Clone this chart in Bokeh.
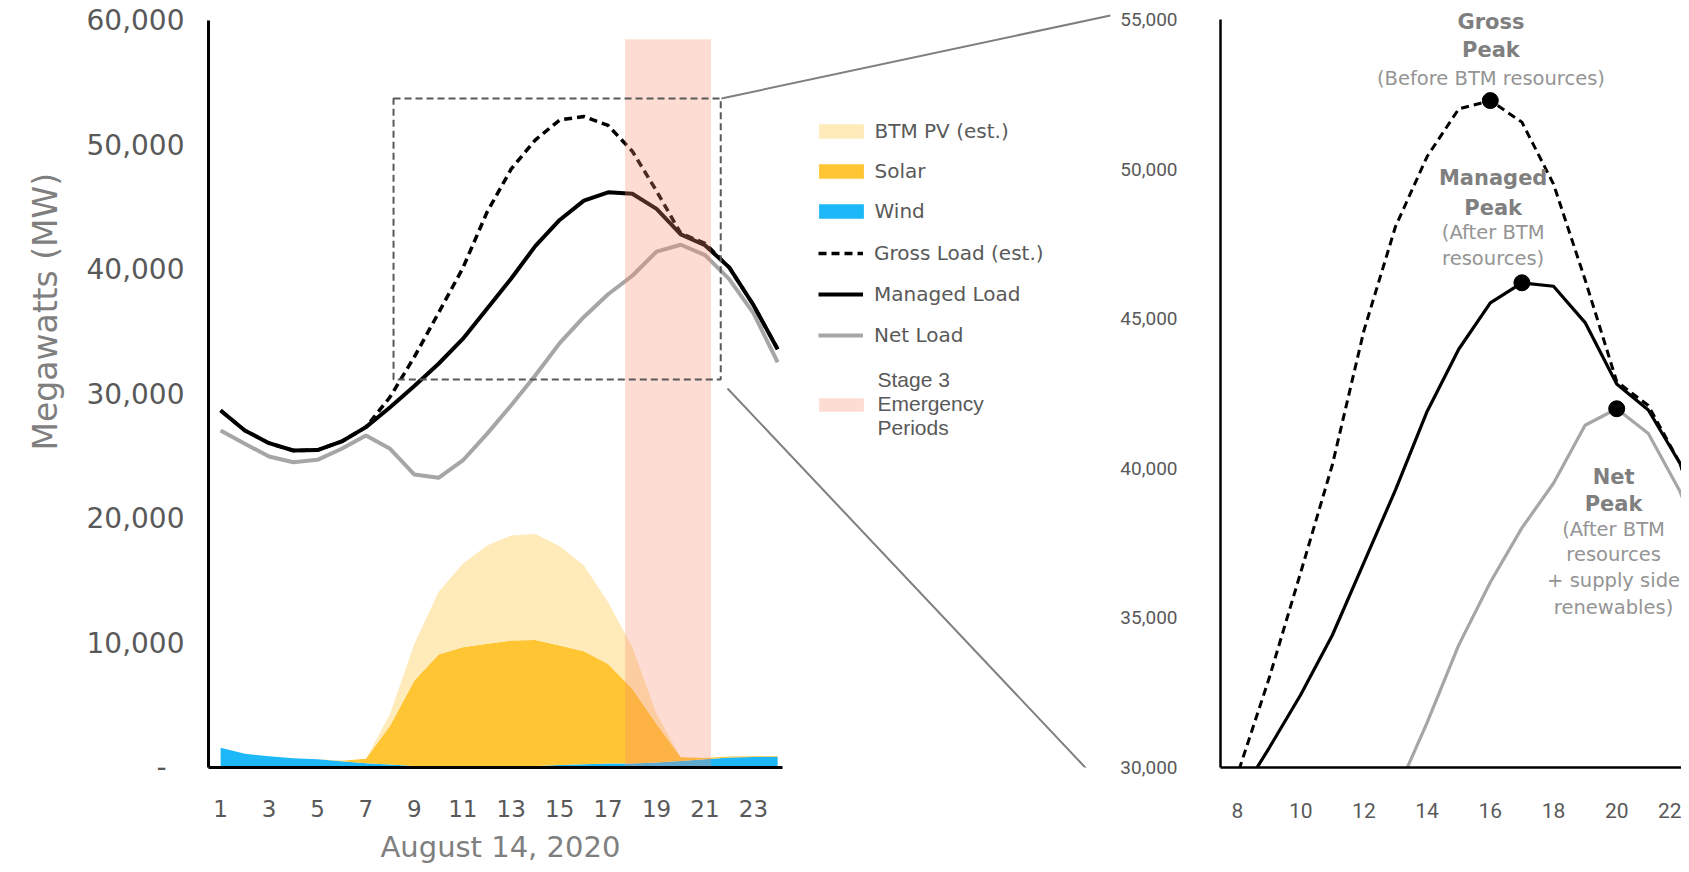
import math
from bokeh.plotting import figure
from bokeh.models import (ColumnDataSource, FixedTicker, Label, Legend, LegendItem,
                          Range1d, NumeralTickFormatter, Title)
from bokeh.layouts import row
from bokeh.embed import file_html
from bokeh.resources import INLINE

# ---------------- data ----------------
hours = list(range(1, 25))
wind = [1580, 1100, 910, 750, 670, 510, 350, 240, 130, 130, 120, 80,
        80, 130, 200, 270, 320, 330, 400, 530, 670, 800, 850, 870]
solar = [0, 0, 0, 0, 0, 30, 350, 3130, 6860, 8950, 9545, 9850,
         10120, 10120, 9600, 9070, 8000, 5990, 3100, 300, 100, 80, 60, 50]
btm_pv = [0, 0, 0, 0, 0, 0, 0, 940, 2945, 5007, 6694, 7898,
          8435, 8514, 7979, 6881, 4953, 3346, 803, 0, 0, 0, 0, 0]
gross_load = [28680, 27070, 26050, 25460, 25500, 26190, 27340, 29770, 32980, 36520, 40110, 44600,
              48080, 50420, 52010, 52290, 51570, 49500, 46300, 42900, 42100, 40170, 37150, 33600]
managed_load = [28680, 27070, 26050, 25460, 25500, 26190, 27340, 28940, 30650, 32430, 34420, 36850,
                39280, 41900, 43980, 45530, 46200, 46085, 44870, 42820, 41950, 40170, 37150, 33600]
net_load = [27070, 26000, 24980, 24520, 24710, 25600, 26670, 25600, 23530, 23270, 24660, 26800,
            29100, 31500, 34090, 36190, 38010, 39500, 41440, 41990, 41160, 39230, 36500, 32550]

emergency_start, emergency_end, emergency_top = 17.7, 21.25, 58500

left_x_ticks = [1, 3, 5, 7, 9, 11, 13, 15, 17, 19, 21, 23]
left_y_ticks = [0, 10000, 20000, 30000, 40000, 50000, 60000]
right_x_ticks = [8, 10, 12, 14, 16, 18, 20, 22]
right_y_ticks = [30000, 35000, 40000, 45000, 50000, 55000]

src = ColumnDataSource(dict(hour=hours, wind=wind, solar=solar, btm=btm_pv,
                            gross=gross_load, managed=managed_load, net=net_load))

TICK = "#595959"
TITLE = "#7f7f7f"
NET_C = "#A6A6A6"
PINK = "#FA8A6E"


def set_standoff(t, v):
    try:
        t.standoff = v
    except AttributeError:
        pass


# ---------------- left panel ----------------
left = figure(width=1115, height=872, title=None,
              x_range=Range1d(0.5, 37.95), y_range=Range1d(0, 60964),
              output_backend="svg", toolbar_location=None,
              min_border_left=208, min_border_right=0, min_border_top=8, min_border_bottom=105)
left.grid.visible = False
left.outline_line_color = None

areas = left.varea_stack(['wind', 'solar', 'btm'], x='hour', source=src,
                         color=["#1DB8F8", "#FFC533", "#FFEAB9"])
r_wind, r_solar, r_btm = areas
r_net = left.line('hour', 'net', source=src, line_color=NET_C, line_width=4)
r_man = left.line('hour', 'managed', source=src, line_color="black", line_width=4)
r_gross = left.line('hour', 'gross', source=src, line_color="black", line_width=3.5, line_dash="8 5")
r_band = left.quad(left=emergency_start, right=emergency_end, bottom=0, top=emergency_top,
                   fill_color=PINK, fill_alpha=0.3, line_color=None)

# zoom box and connectors
left.quad(left=8.14, right=21.65, bottom=31170, top=53730, fill_color=None,
          line_color="#595959", line_width=2, line_dash="7 4")
left.segment(x0=[21.68, 21.93], y0=[53735, 30442], x1=[37.74, 37.87], y1=[60402, -2410],
             line_color="#7f7f7f", line_width=2)

for ax in (left.xaxis[0], left.yaxis[0]):
    ax.axis_line_width = 3
    ax.axis_line_color = "black"
    ax.major_tick_line_color = None
    ax.minor_tick_line_color = None
    ax.major_label_text_color = TICK
    ax.major_label_text_font = "DejaVu Sans"

left.xaxis.ticker = FixedTicker(ticks=left_x_ticks)
left.xaxis.bounds = (0.5, 24.2)
left.xaxis.major_label_text_font_size = "23px"
left.xaxis.major_label_standoff = 26

left.yaxis.ticker = FixedTicker(ticks=left_y_ticks)
left.yaxis.bounds = (0, 60000)
left.yaxis.major_label_text_font_size = "28px"
left.yaxis.major_label_standoff = 18
left.yaxis.major_label_overrides = {t: ("-\u00a0\u00a0" if t == 0 else f"{t:,}") for t in left_y_ticks}

t_x = Title(text="August 14, 2020", align="left", offset=172, text_font="DejaVu Sans",
            text_font_size="29px", text_font_style="normal", text_color=TITLE)
set_standoff(t_x, 16)
left.add_layout(t_x, "below")
t_y = Title(text="Megawatts (MW)", align="left", offset=317, text_font="DejaVu Sans",
            text_font_size="33px", text_font_style="normal", text_color=TITLE)
set_standoff(t_y, 37)
left.add_layout(t_y, "left")

leg_common = dict(padding=0, margin=0, border_line_color=None, background_fill_alpha=0,
                  label_text_color=TICK, label_height=20)
legA = Legend(items=[LegendItem(label="BTM PV (est.)", renderers=[r_btm]),
                     LegendItem(label="Solar", renderers=[r_solar]),
                     LegendItem(label="Wind", renderers=[r_wind])],
              location=(604.5, 544), glyph_width=56, glyph_height=18, spacing=16,
              label_standoff=6, label_text_font="DejaVu Sans", label_text_font_size="20px",
              **leg_common)
legB = Legend(items=[LegendItem(label="Gross Load (est.)", renderers=[r_gross]),
                     LegendItem(label="Managed Load", renderers=[r_man]),
                     LegendItem(label="Net Load", renderers=[r_net])],
              location=(610, 420), glyph_width=45, glyph_height=20, spacing=17,
              label_standoff=11, label_text_font="DejaVu Sans", label_text_font_size="20px",
              **leg_common)
legC = Legend(items=[LegendItem(label="Stage 3\nEmergency\nPeriods", renderers=[r_band])],
              location=(604.5, 327), glyph_width=56, glyph_height=17, spacing=0,
              label_standoff=9, label_text_font="Liberation Sans", label_text_font_size="21px",
              **leg_common)
for lg in (legA, legB, legC):
    left.add_layout(lg)

# ---------------- right (zoomed) panel ----------------
right = figure(width=566, height=872, title=None,
               x_range=Range1d(7.462, 22.05), y_range=Range1d(30000, 55368),
               output_backend="svg", toolbar_location=None,
               min_border_left=105, min_border_right=0, min_border_top=8, min_border_bottom=105)
right.grid.visible = False
right.outline_line_color = None

right.line('hour', 'net', source=src, line_color=NET_C, line_width=3.2)
right.line('hour', 'managed', source=src, line_color="black", line_width=3.2)
right.line('hour', 'gross', source=src, line_color="black", line_width=3, line_dash="8 5")


def peak(vals):
    i = max(range(len(vals)), key=lambda k: vals[k])
    return hours[i], vals[i]


pk = [peak(gross_load), peak(managed_load), peak(net_load)]
right.scatter([p[0] for p in pk], [p[1] for p in pk], size=16, color="black")

for ax in (right.xaxis[0], right.yaxis[0]):
    ax.axis_line_width = 2.5
    ax.axis_line_color = "black"
    ax.major_tick_line_color = None
    ax.minor_tick_line_color = None
    ax.major_tick_out = 0
    ax.minor_tick_out = 0
    ax.major_label_text_color = TICK
    ax.major_label_text_font = "Roboto"

right.xaxis.ticker = FixedTicker(ticks=right_x_ticks)
right.xaxis.major_label_text_font_size = "21px"
right.xaxis.major_label_standoff = 35
right.yaxis.ticker = FixedTicker(ticks=right_y_ticks)
right.yaxis.bounds = (30000, 55000)
right.yaxis.formatter = NumeralTickFormatter(format="0,0")
right.yaxis.major_label_text_font_size = "19px"
right.yaxis.major_label_standoff = 43

notes = [
    (16.02, [("Gross", True, 54930), ("Peak", True, 53968), ("(Before BTM resources)", False, 53040)]),
    (16.09, [("Managed", True, 49693), ("Peak", True, 48701), ("(After BTM", False, 47875),
             ("resources)", False, 47016)]),
    (19.9, [("Net", True, 39724), ("Peak", True, 38799), ("(After BTM", False, 37943),
            ("resources", False, 37127), ("+ supply side", False, 36235), ("renewables)", False, 35346)]),
]
for x, lines in notes:
    for txt, bold, y in lines:
        right.add_layout(Label(x=x, y=y, text=txt, text_align="center", text_baseline="middle",
                               text_font="DejaVu Sans",
                               text_font_size="21px" if bold else "19.5px",
                               text_font_style="bold" if bold else "normal",
                               text_color="#7f7f7f" if bold else "#949494"))

layout = row(left, right)
open("out.html", "w").write(file_html(layout, INLINE))
